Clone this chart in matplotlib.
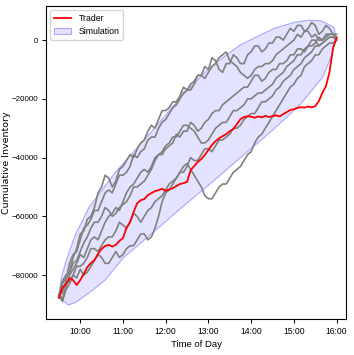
import numpy as np
import pandas as pd
import matplotlib
matplotlib.use('Agg')
import matplotlib.pyplot as plt
import matplotlib.dates as mdates

start = pd.Timestamp('2024-01-02 09:30')

# trader cumulative inventory (thousands), every 5 min from 9:30 to 16:00
trader = [-87.8, -84.4, -83.1, -81.0, -81.7, -83.4, -81.7, -79.6, -77.3, -75.9,
          -74.9, -72.8, -71.1, -70.1, -69.7, -70.3, -69.7, -68.4, -67.4, -64.0,
          -61.9, -58.5, -55.5, -54.5, -54.1, -52.8, -52.1, -51.4, -51.1, -50.6,
          -51.3, -50.9, -50.4, -49.7, -49.0, -48.7, -48.3, -44.3, -42.9, -41.5,
          -40.5, -39.1, -37.4, -35.7, -34.4, -33.4, -32.7, -32.0, -31.0, -30.3,
          -28.6, -26.9, -26.2, -25.9, -26.1, -26.4, -26.0, -26.3, -25.8, -26.2,
          -25.9, -25.6, -26.0, -25.2, -24.5, -23.8, -23.5, -23.1, -22.8, -23.0,
          -22.6, -22.9, -22.5, -20.8, -18.0, -15.7, -10.9, -2.7, 0.7]

# simulated paths (thousands), also every 5 min
sim1 = [-87, -82, -80, -79, -74, -71, -66, -65, -61, -60,
        -57, -52, -50, -46, -47, -50, -48, -44, -43, -41,
        -39, -40, -37, -35, -34, -31, -29, -30, -27, -24,
        -24, -23, -21, -21, -19, -16, -17, -15, -14, -12,
        -12, -9, -10, -6, -7, -10, -11, -8, -8, -5,
        -6, -8, -8, -5, -4, -2, -2, -4, -3, -1,
        -1, 1, 1, 0, 2, 4, 3, 5, 5, 3,
        4, 6, 5, 2, 3, 5, 4, 2, 2]
sim2 = [-87, -86, -82, -76, -73, -72, -68, -64, -63, -61,
        -58, -58, -55, -52, -51, -52, -49, -46, -46, -45,
        -43, -39, -40, -38, -37, -34, -33, -33, -30, -28,
        -27, -25, -23, -22, -20, -18, -17, -17, -15, -12,
        -12, -13, -11, -9, -8, -6, -5, -4, -7, -8,
        -9, -11, -12, -13, -12, -10, -9, -9, -8, -8,
        -7, -5, -4, -3, -2, -1, 0, 2, 1, 3,
        3, 1, 2, 0, 0, 1, 2, 2, 1]
sim3 = [-87, -88, -84, -80, -78, -76, -73, -74, -71, -68,
        -67, -68, -65, -62, -60, -59, -57, -58, -55, -52,
        -50, -49, -47, -45, -44, -45, -43, -40, -39, -39,
        -37, -36, -35, -32, -33, -31, -31, -28, -29, -31,
        -30, -28, -27, -25, -24, -24, -22, -21, -20, -19,
        -18, -17, -16, -16, -14, -12, -12, -14, -13, -11,
        -10, -10, -8, -8, -7, -5, -5, -3, -3, -4,
        -2, 0, 0, -2, -1, 0, 1, 1, 0]
sim4 = [-87, -89, -85, -83, -80, -81, -78, -80, -79, -77,
        -75, -73, -74, -76, -76, -74, -72, -74, -73, -71,
        -70, -70, -68, -66, -66, -68, -67, -64, -60, -55,
        -52, -51, -49, -47, -45, -43, -42, -44, -46, -48,
        -50, -53, -54, -54, -52, -50, -49, -49, -47, -45,
        -44, -43, -41, -39, -38, -35, -33, -32, -30, -28,
        -26, -24, -22, -20, -18, -16, -15, -13, -12, -9,
        -8, -7, -5, -5, -3, -2, -1, -1, 0]
sim5 = [-87, -84, -83, -82, -80, -77, -77, -76, -74, -71,
        -71, -72, -70, -68, -67, -67, -65, -62, -63, -64,
        -62, -59, -60, -62, -60, -58, -57, -55, -54, -53,
        -51, -49, -48, -47, -45, -45, -43, -40, -41, -41,
        -39, -37, -37, -38, -36, -34, -34, -33, -32, -30,
        -30, -29, -27, -26, -25, -25, -23, -21, -21, -20,
        -19, -17, -16, -14, -13, -12, -10, -9, -8, -6,
        -5, -4, -2, -2, -1, 0, 1, 1, 1]
sim6 = [-87, -83, -81, -79, -76, -75, -72, -69, -67, -64,
        -62, -62, -60, -57, -58, -60, -59, -57, -56, -55,
        -53, -50, -50, -49, -48, -46, -44, -41, -39, -38,
        -36, -35, -33, -33, -31, -29, -29, -30, -31, -33,
        -35, -35, -34, -32, -30, -29, -28, -28, -26, -24,
        -24, -23, -22, -20, -20, -19, -18, -18, -17, -16,
        -15, -13, -12, -11, -9, -8, -7, -5, -5, -3,
        -2, -2, -1, 1, 0, 2, 2, 2, 1]

# simulation envelope outline: minutes after 9:30, inventory (thousands)
env_min = [0.6, 4.8, 13.2, 24.4, 44, 65, 90.3, 128.1, 170.2, 212.2, 254.3, 300.5, 338.4, 370.6, 383.3, 388.9,
           386.1, 369.3, 352.4, 331.4, 303.4, 282.4, 254.3, 212.2, 170.2, 128.1, 81.9, 63.7, 42.6, 23.0, 10.4, 3.4]
env_val = [-85.8, -88.5, -90.2, -89.2, -85.8, -81.7, -74.2, -66.4, -57.5, -49.0, -40.2, -30.6, -22.1, -12.6, -5.1, 1.7,
           4.4, 6.5, 6.8, 6.1, 4.1, 1.7, -1.7, -9.2, -19.7, -31.7, -44.3, -50.0, -56.8, -66.4, -74.9, -81.0]

t_trader = start + pd.to_timedelta(np.arange(len(trader)) * 5, unit='min')
t_sim = start + pd.to_timedelta(np.arange(len(sim1)) * 5, unit='min')
t_env = start + pd.to_timedelta(env_min, unit='min')

plt.rcParams['font.family'] = ['Liberation Sans', 'DejaVu Sans']

fig = plt.figure(figsize=(3.54, 3.55), dpi=100)
ax = fig.add_axes([0.130, 0.101, 0.847, 0.882])

ax.fill(t_env, np.array(env_val) * 1000, facecolor=(0, 0, 1, 0.11), edgecolor=(0, 0, 1, 0.3),
        lw=0.8, label='Simulation', zorder=1)
for s in [sim1, sim2, sim3, sim4, sim5, sim6]:
    ax.plot(t_sim, np.array(s) * 1000, color='gray', lw=1.2, zorder=2)
ax.plot(t_trader, np.array(trader) * 1000, color='red', lw=1.3, label='Trader', zorder=3)

ax.set_xlim(pd.Timestamp('2024-01-02 09:12'), pd.Timestamp('2024-01-02 16:13'))
ax.set_ylim(-95000, 11600)
ax.xaxis.set_major_locator(mdates.HourLocator())
ax.xaxis.set_major_formatter(mdates.DateFormatter('%H:%M'))
ax.tick_params(labelsize=6.2, length=3, width=0.7, pad=2.5)
ax.tick_params(axis='y', labelsize=5.8)
for sp in ax.spines.values():
    sp.set_linewidth(0.8)

ax.set_xlabel('Time of Day', fontsize=6.8, labelpad=3)
ax.set_ylabel('Cumulative Inventory', fontsize=6.8, family='DejaVu Sans')
ax.yaxis.set_label_coords(-0.118, 0.5)

h, l = ax.get_legend_handles_labels()
ax.legend(h[::-1], l[::-1], loc='upper left', fontsize=6.3, handlelength=2.0)

fig.savefig('out.png', dpi=100)
